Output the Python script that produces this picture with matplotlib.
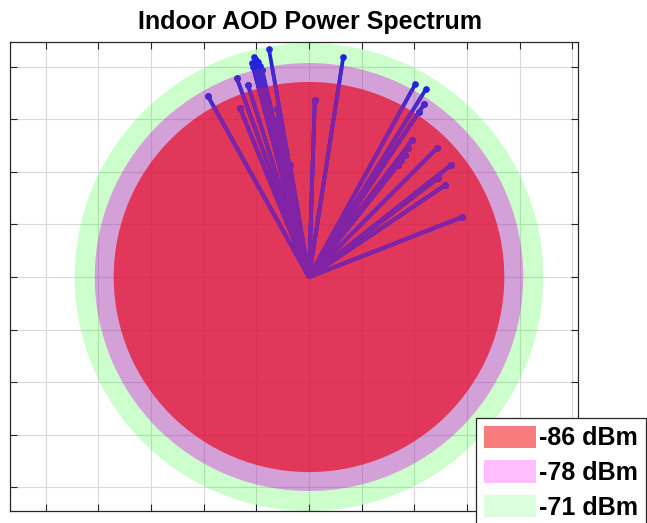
import numpy as np
import matplotlib
matplotlib.use("Agg")
import matplotlib.pyplot as plt
from matplotlib.patches import Circle, Patch

plt.rcParams['font.family'] = ['Liberation Sans', 'DejaVu Sans']

# power contours (dBm) and their radius in plot units
levels = ['-86 dBm', '-78 dBm', '-71 dBm']
radii = [3.71, 4.07, 4.45]

# AOD path vectors (east, north components)
east = [-1.92, -1.37, -1.31, -1.16, -1.08, -1.05, -1.01, -0.97, -0.93, -1.06,
        -0.89, -0.76, -0.49, -0.36, -0.65, -0.60, -0.55,
        0.65, 0.11,
        2.02, 2.22, 2.19, 2.09, 1.96, 1.88, 1.83, 1.75, 1.69, 2.43, 2.70,
        2.45, 2.59, 2.91]
north = [3.44, 3.78, 3.21, 3.65, 4.07, 4.18, 4.13, 4.09, 4.01, 3.99,
         3.94, 4.33, 2.41, 2.13, 2.98, 3.20, 2.80,
         4.18, 3.37,
         3.67, 3.57, 3.29, 3.14, 2.60, 2.45, 2.32, 2.22, 2.13, 2.45, 2.13,
         1.88, 1.75, 1.14]

fill_cols = ['#e80019', '#e000eb', '#00ff00']
fill_alpha = [0.66, 0.37, 0.2]
legend_cols = ['#f87c7c', '#ffbfff', '#dcffdc']

fig = plt.figure(figsize=(6.47, 5.23), dpi=100)
ax = fig.add_axes([10/647, 12/523, 568/647, 469/523])

# discs, largest first
circles = []
for i in [2, 1, 0]:
    c = Circle((0, 0), radii[i], facecolor=fill_cols[i], alpha=fill_alpha[i],
               edgecolor='none', zorder=1 + (2 - i))
    ax.add_patch(c)
    circles.append(c)
purple_disc = circles[1]
red_disc = circles[2]

line_cols = ['#2424dc', '#4a28cc', '#8223a6']
clips = [None, purple_disc, red_disc]
for k in range(3):
    for x, y in zip(east, north):
        ln, = ax.plot([0, x], [0, y], color=line_cols[k], lw=2.7,
                      solid_capstyle='round', zorder=5 + k)
        mk, = ax.plot([x], [y], 'o', color=line_cols[k], ms=3.8, zorder=5 + k)
        if clips[k] is not None:
            ln.set_clip_path(clips[k])
            mk.set_clip_path(clips[k])

ax.set_xlim(-5.68, 5.11)
ax.set_ylim(-4.45, 4.47)
ax.set_xticks(np.arange(-5, 6))
ax.set_yticks(np.arange(-4, 5))
ax.set_xticklabels([])
ax.set_yticklabels([])
ax.tick_params(direction='in', length=5, top=True, right=True, color='#262626')
ax.grid(True, color='#d9d9d9', lw=0.8)
ax.set_axisbelow(True)
for s in ax.spines.values():
    s.set_color('#262626')
    s.set_linewidth(0.9)

fig.text(310/647, 1 - 22/523, 'Indoor AOD Power Spectrum', ha='center',
         va='center', fontsize=18, fontweight='bold')

handles = [Patch(facecolor=legend_cols[i], edgecolor='none') for i in range(3)]
leg = fig.legend(handles, levels, loc='upper left',
                 bbox_to_anchor=(476/647, 1 - 418/523),
                 prop={'weight': 'bold', 'size': 18},
                 handlelength=2.1, handleheight=1.0, handletextpad=0.12,
                 labelspacing=0.4, borderpad=0.3, borderaxespad=0,
                 fancybox=False, framealpha=1, edgecolor='#262626')
leg.get_frame().set_linewidth(0.9)

fig.savefig('out.png', dpi=100)
